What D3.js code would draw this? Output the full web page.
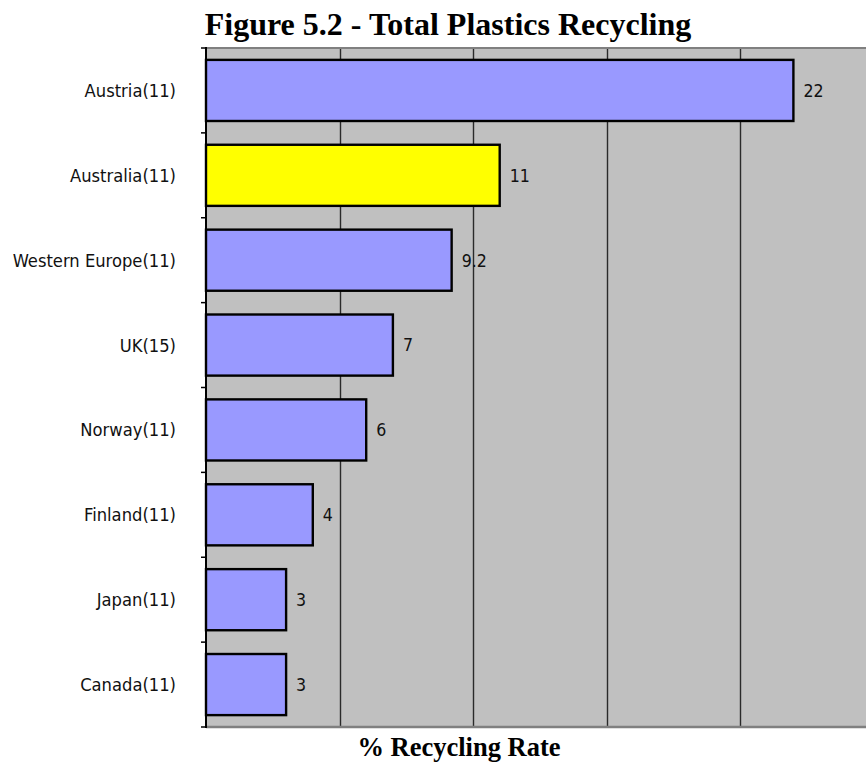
<!DOCTYPE html>
<html>
<head>
<meta charset="utf-8">
<script src="https://cdn.jsdelivr.net/npm/d3@7"></script>
<style>
  html, body { margin: 0; padding: 0; background: #ffffff; }
  svg { display: block; }
  .cat, .val { font-family: Tahoma, "DejaVu Sans Condensed", "DejaVu Sans", sans-serif; font-stretch: condensed; fill: #111; }
  .title { font-family: "Times New Roman", "Liberation Serif", serif; font-weight: bold; fill: #000; }
</style>
</head>
<body>
<svg id="chart" width="866" height="762"></svg>
<script>
// Plastics recycling rates by country / region (percent)
const categories = ["Austria(11)", "Australia(11)", "Western Europe(11)", "UK(15)", "Norway(11)", "Finland(11)", "Japan(11)", "Canada(11)"];
const rates = [22, 11, 9.2, 7, 6, 4, 3, 3];
const highlight = ["Australia(11)"];
const gridTicks = [5, 10, 15, 20];

const svg = d3.select("#chart");

const plot = { left: 206, right: 873.5, top: 48, bottom: 727 };

const x = d3.scaleLinear().domain([0, 25]).range([plot.left, plot.right]);
const y = d3.scaleBand()
  .domain(categories)
  .range([plot.top, plot.bottom])
  .paddingInner(0.28)
  .paddingOuter(0.14);

// Title
svg.append("text")
  .attr("class", "title")
  .attr("x", 448)
  .attr("y", 35)
  .attr("text-anchor", "middle")
  .attr("font-size", 32)
  .text("Figure 5.2 - Total Plastics Recycling");

// Plot background
svg.append("rect")
  .attr("x", plot.left)
  .attr("y", plot.top)
  .attr("width", plot.right - plot.left)
  .attr("height", plot.bottom - plot.top)
  .attr("fill", "#c0c0c0");

// Vertical gridlines
svg.append("g")
  .selectAll("line")
  .data(gridTicks)
  .join("line")
  .attr("x1", d => Math.round(x(d)) + 0.5)
  .attr("x2", d => Math.round(x(d)) + 0.5)
  .attr("y1", plot.top)
  .attr("y2", plot.bottom)
  .attr("stroke", "#2a2a2a")
  .attr("stroke-width", 1.4);

// Top and bottom frame lines
svg.append("line")
  .attr("x1", plot.left).attr("x2", plot.right)
  .attr("y1", plot.top).attr("y2", plot.top)
  .attr("stroke", "#808080").attr("stroke-width", 2);
svg.append("line")
  .attr("x1", plot.left).attr("x2", plot.right)
  .attr("y1", plot.bottom).attr("y2", plot.bottom)
  .attr("stroke", "#808080").attr("stroke-width", 2.5);

// Bars
svg.append("g")
  .selectAll("rect")
  .data(categories)
  .join("rect")
  .attr("x", x(0))
  .attr("y", d => y(d))
  .attr("width", (d, i) => x(rates[i]) - x(0))
  .attr("height", y.bandwidth())
  .attr("fill", d => highlight.includes(d) ? "#ffff00" : "#9999ff")
  .attr("stroke", "#000")
  .attr("stroke-width", 2.4);

// Value labels
svg.append("g")
  .selectAll("text")
  .data(categories)
  .join("text")
  .attr("class", "val")
  .attr("x", (d, i) => x(rates[i]) + 10)
  .attr("y", d => y(d) + y.bandwidth() / 2)
  .attr("dy", "0.36em")
  .attr("font-size", 17.6)
  .text((d, i) => String(rates[i]));

// Category axis line and ticks between categories
svg.append("line")
  .attr("x1", plot.left).attr("x2", plot.left)
  .attr("y1", plot.top - 1).attr("y2", plot.bottom + 1)
  .attr("stroke", "#000").attr("stroke-width", 2);

const boundaries = d3.range(categories.length + 1).map(i => plot.top + i * y.step());
svg.append("g")
  .selectAll("line")
  .data(boundaries)
  .join("line")
  .attr("x1", plot.left - 5)
  .attr("x2", plot.left)
  .attr("y1", d => d)
  .attr("y2", d => d)
  .attr("stroke", "#000")
  .attr("stroke-width", 1.5);

// Category labels
svg.append("g")
  .selectAll("text")
  .data(categories)
  .join("text")
  .attr("class", "cat")
  .attr("x", 176)
  .attr("y", d => y(d) + y.bandwidth() / 2)
  .attr("dy", "0.36em")
  .attr("text-anchor", "end")
  .attr("font-size", 18.2)
  .text(d => d);

// Axis title
svg.append("text")
  .attr("class", "title")
  .attr("x", 459)
  .attr("y", 756)
  .attr("text-anchor", "middle")
  .attr("font-size", 26.5)
  .text("% Recycling Rate");
</script>
</body>
</html>
